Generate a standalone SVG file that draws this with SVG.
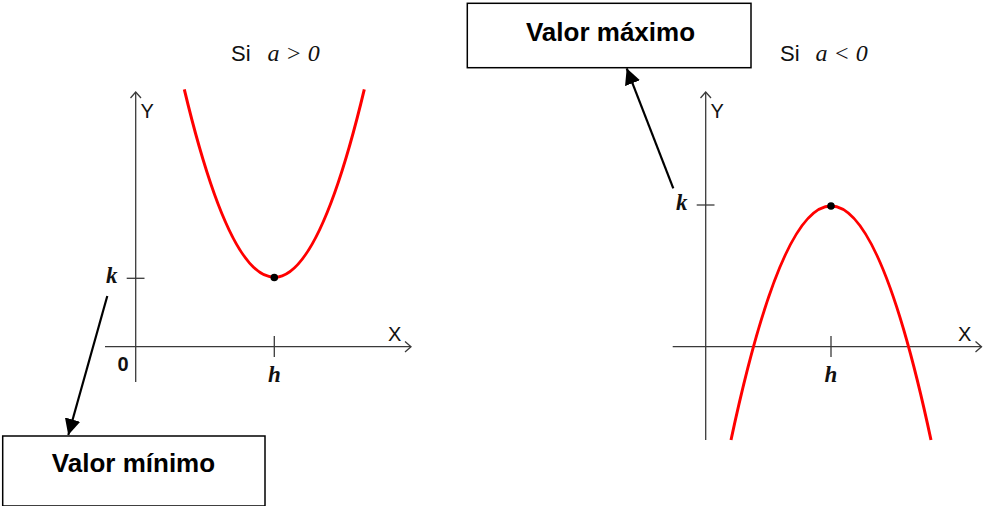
<svg xmlns="http://www.w3.org/2000/svg" width="985" height="506" viewBox="0 0 985 506">
<defs>
<marker id="ah" viewBox="0 0 10 10" refX="10" refY="5" markerWidth="16" markerHeight="16" markerUnits="userSpaceOnUse" orient="auto">
<path d="M0,0 L10,5 L0,10 Z" fill="#000"/>
</marker>
</defs>
<style>
.ax{stroke:#3a3a3a;stroke-width:1.3;fill:none}
.cv{stroke:#ff0000;stroke-width:3;fill:none}
.lbl{font-family:"Liberation Sans",Arial,sans-serif;font-size:20px;fill:#111}
.var{font-family:"Liberation Serif","Times New Roman",serif;font-style:italic;font-weight:bold;font-size:23px;fill:#111}
.cond{font-family:"Liberation Serif","Times New Roman",serif;font-style:italic;font-size:24px;fill:#111}
.si{font-family:"Liberation Sans",Arial,sans-serif;font-size:22px;fill:#111}
.box{fill:#fff;stroke:#000;stroke-width:1.5}
.bt{font-family:"Liberation Sans",Arial,sans-serif;font-weight:bold;font-size:26px;fill:#000;text-anchor:middle}
.conn{stroke:#000;stroke-width:2.2;fill:none}
</style>
<rect width="985" height="506" fill="#fff"/>

<g id="graph-left">
<line class="ax" x1="135.7" y1="382" x2="135.7" y2="92"/>
<polyline class="ax" points="130.5,98 135.7,92 141,98"/>
<line class="ax" x1="105" y1="346.7" x2="411" y2="346.7"/>
<polyline class="ax" points="405,341.5 411,346.7 405,352"/>
<line class="ax" x1="126.7" y1="278.3" x2="144.5" y2="278.3"/>
<line class="ax" x1="274.3" y1="336" x2="274.3" y2="357"/>
<path class="cv" d="M184.3,89.3 Q274.3,465.3 364.3,89.3"/>
<circle cx="274.3" cy="277.5" r="3.8" fill="#000"/>
<text class="lbl" x="140.5" y="118">Y</text>
<text class="lbl" x="388" y="341">X</text>
<text class="var" x="106" y="283">k</text>
<text class="var" x="274.3" y="382" text-anchor="middle">h</text>
<text class="lbl" x="117.5" y="371" font-weight="bold" font-size="21">0</text>
<text class="si" x="231" y="61">Si</text>
<text class="cond" x="267.5" y="61">a &gt; 0</text>
</g>

<g id="graph-right">
<line class="ax" x1="705.7" y1="440" x2="705.7" y2="92"/>
<polyline class="ax" points="700.5,98 705.7,92 711,98"/>
<line class="ax" x1="672.7" y1="346.7" x2="981.5" y2="346.7"/>
<polyline class="ax" points="975.5,341.5 981.5,346.7 975.5,352"/>
<line class="ax" x1="696.7" y1="205" x2="714.5" y2="205"/>
<line class="ax" x1="831" y1="336" x2="831" y2="357"/>
<path class="cv" d="M731,440 Q831,-28 931,440"/>
<circle cx="831" cy="206" r="3.8" fill="#000"/>
<text class="lbl" x="710.5" y="118">Y</text>
<text class="lbl" x="958" y="341">X</text>
<text class="var" x="676" y="210">k</text>
<text class="var" x="831" y="382" text-anchor="middle">h</text>
<text class="si" x="780" y="61">Si</text>
<text class="cond" x="815.5" y="61">a &lt; 0</text>
</g>

<g id="box-minimo">
<rect class="box" x="2.7" y="436" width="262.3" height="70"/>
<text class="bt" x="133.5" y="472">Valor mínimo</text>
</g>

<g id="box-maximo">
<rect class="box" x="467.3" y="3.3" width="283.7" height="64.4"/>
<text class="bt" x="610.5" y="40.5">Valor máximo</text>
</g>

<g id="connectors">
<line class="conn" x1="107.3" y1="296" x2="68.3" y2="435" marker-end="url(#ah)"/>
<line class="conn" x1="673.3" y1="188.3" x2="626.7" y2="68.3" marker-end="url(#ah)"/>
</g>
</svg>
